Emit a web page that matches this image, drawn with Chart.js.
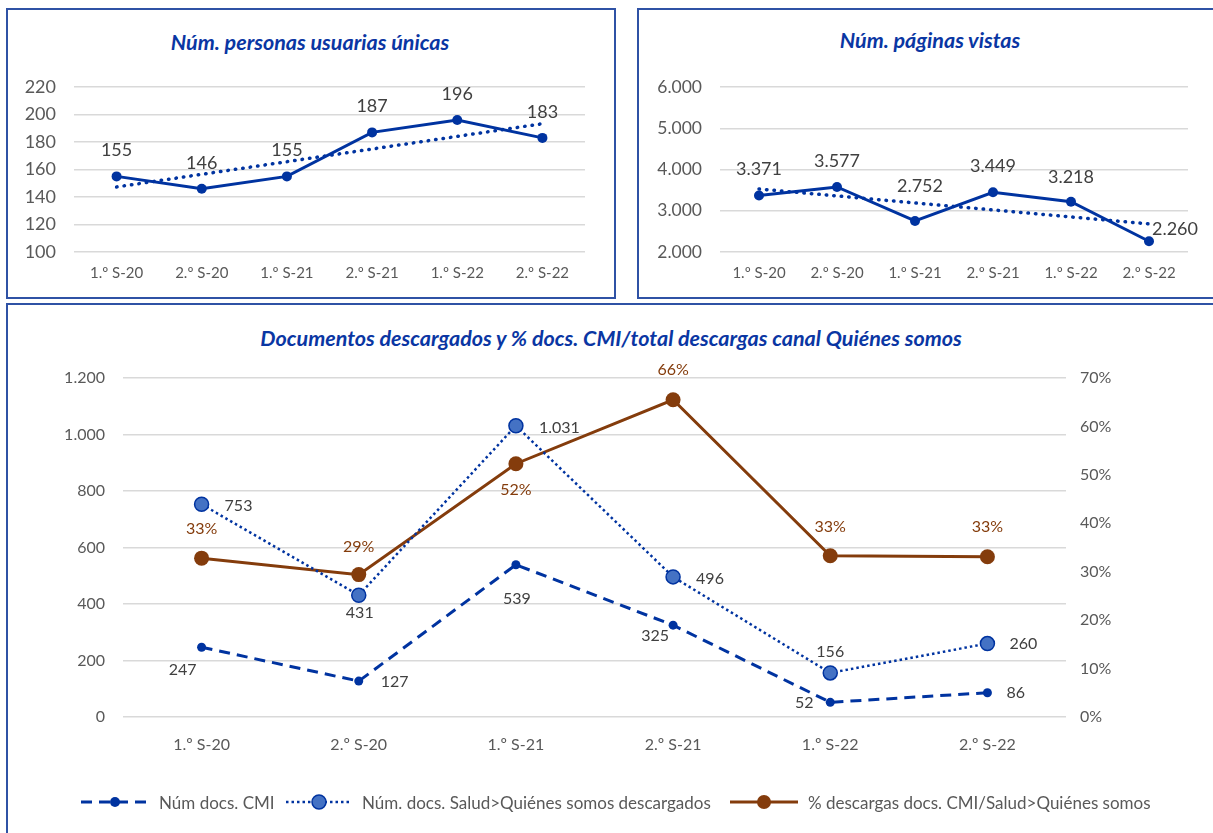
<!DOCTYPE html>
<html lang="es">
<head>
<meta charset="utf-8">
<title>Descargas y visitas</title>
<script src="https://cdn.jsdelivr.net/npm/chart.js@4.4.0/dist/chart.umd.min.js"></script>
<style>
  html, body { margin: 0; padding: 0; background: #fff; overflow: hidden; }
  body { width: 1213px; height: 833px; position: relative; font-family: Lato, "Open Sans", sans-serif; }
  .panel { position: absolute; border: 2px solid #2f52a5; box-sizing: border-box; }
  .lienzo { position: absolute; }
  .titulo { position: absolute; transform: translate(-50%, -50%); white-space: nowrap;
            font: italic 700 21.5px Lato, sans-serif; color: #0a36a3; }
  .leyenda { position: absolute; top: 792px; height: 20px; display: flex; align-items: center;
             font: 17px Lato, sans-serif; color: #595959; white-space: nowrap; }
  .leyenda svg { margin-right: 10px; }
</style>
</head>
<body>
<div class="panel" style="left:6px; top:8px; width:610px; height:291px;"></div>
<div class="panel" style="left:637px; top:8px; width:600px; height:291px;"></div>
<div class="panel" style="left:6px; top:303px; width:1230px; height:560px;"></div>

<div class="titulo" style="left:310px; top:42px;">Núm. personas usuarias únicas</div>
<div class="titulo" style="left:930px; top:40px;">Núm. páginas vistas</div>
<div class="titulo" style="left:611px; top:338px;">Documentos descargados y % docs. CMI/total descargas canal Quiénes somos</div>

<canvas id="graficoUsuarios" class="lienzo" width="606" height="287" style="left:8px; top:10px;"></canvas>
<canvas id="graficoPaginas" class="lienzo" width="574" height="287" style="left:639px; top:10px;"></canvas>
<canvas id="graficoDescargas" class="lienzo" width="1205" height="528" style="left:8px; top:305px;"></canvas>

<div class="leyenda" style="left:81px;">
  <svg width="68" height="16"><line x1="0" y1="8" x2="68" y2="8" stroke="#0033a0" stroke-width="3" stroke-dasharray="11 7"/><circle cx="34" cy="8" r="5" fill="#0033a0"/></svg>
  <span>Núm docs. CMI</span>
</div>
<div class="leyenda" style="left:286px;">
  <svg width="66" height="18"><line x1="0" y1="9" x2="66" y2="9" stroke="#0033a0" stroke-width="2.5" stroke-dasharray="2.5 3"/><circle cx="33" cy="9" r="7" fill="#4472c4" stroke="#0033a0" stroke-width="1.5"/></svg>
  <span>Núm. docs. Salud&gt;Quiénes somos descargados</span>
</div>
<div class="leyenda" style="left:730px;">
  <svg width="68" height="18"><line x1="0" y1="9" x2="68" y2="9" stroke="#843c0c" stroke-width="3"/><circle cx="34" cy="9" r="7" fill="#843c0c"/></svg>
  <span>% descargas docs. CMI/Salud&gt;Quiénes somos</span>
</div>

<script>
// Datos
const semestresSup = ['1.º S-20', '2.º S-20', '1.º S-21', '2.º S-21', '1.º S-22', '2.º S-22'];
const semestresInf = ['1.º S-20', '2.º S-20', '1.º S-21', '2.º S-21', '1.º S-22', '2.º S-22'];

const usuariosUnicos = [155, 146, 155, 187, 196, 183];
const tendenciaUsuarios = [147.3, 156.5, 165.7, 174.9, 184.1, 193.3];

const paginasVistas = [3371, 3577, 2752, 3449, 3218, 2260];
const tendenciaPaginas = [3528, 3359, 3189, 3020, 2850, 2681];

const docsCMI = [247, 127, 539, 325, 52, 86];
const docsQuienesSomos = [753, 431, 1031, 496, 156, 260];
const pctDescargasCMI = [0.328, 0.294, 0.523, 0.655, 0.333, 0.331];

// Escalas
const ticksUsuarios = { min: 100, max: 220, paso: 20 };
const ticksPaginas = { min: 2000, max: 6000, paso: 1000 };
const ticksDocs = { min: 0, max: 1200, paso: 200 };
const ticksPct = { min: 0, max: 0.7, paso: 0.1 };

// Colores
const AZUL = '#0033a0';
const AZUL_CLARO = '#4472c4';
const MARRON = '#843c0c';
const GRIS_TEXTO = '#595959';
const GRIS_ETIQUETA = '#404040';
const GRIS_REJILLA = '#d9d9d9';

// Formato español: 1.200
const miles = (v) => String(Math.round(v)).replace(/\B(?=(\d{3})+(?!\d))/g, '.');
const pct = (v) => Math.round(v * 100) + '%';

// Plugin para etiquetas de datos con desplazamiento por punto
const etiquetasDatos = {
    id: 'etiquetasDatos',
    afterDatasetsDraw(chart) {
        const ctx = chart.ctx;
        chart.data.datasets.forEach((ds, i) => {
            const et = ds.etiquetas;
            if (!et) return;
            const meta = chart.getDatasetMeta(i);
            ctx.save();
            ctx.font = et.font;
            ctx.fillStyle = et.color;
            ctx.textBaseline = 'middle';
            meta.data.forEach((pt, j) => {
                const d = et.desp[j];
                ctx.textAlign = d[2] || 'center';
                ctx.fillText(et.formato(ds.data[j]), pt.x + d[0], pt.y + d[1]);
            });
            ctx.restore();
        });
    }
};

function ejeX(labels, alto, padding, tam) {
    return {
        type: 'category',
        offset: true,
        grid: { display: false, drawTicks: false },
        border: { display: false },
        ticks: { color: GRIS_TEXTO, font: { family: 'Lato', size: tam }, padding: padding, maxRotation: 0 },
        afterFit(s) { s.height = alto; }
    };
}

function ejeY(cfg, ancho, padding, tam, formato, posicion, rejilla) {
    return {
        type: 'linear',
        position: posicion,
        min: cfg.min,
        max: cfg.max,
        grid: { display: rejilla, drawTicks: false, color: GRIS_REJILLA, lineWidth: 1.5 },
        border: { display: false },
        ticks: {
            stepSize: cfg.paso,
            color: GRIS_TEXTO,
            font: { family: 'Lato', size: tam },
            padding: padding,
            callback: (v) => formato(v)
        },
        afterFit(s) { s.width = ancho; }
    };
}

const opcionesBase = {
    responsive: false,
    devicePixelRatio: 1,
    animation: false,
    plugins: { legend: { display: false }, tooltip: { enabled: false }, title: { display: false } }
};

function initGraficos() {
    // Personas usuarias únicas
    new Chart(document.getElementById('graficoUsuarios'), {
        type: 'line',
        data: {
            labels: semestresSup,
            datasets: [{
                data: tendenciaUsuarios,
                borderColor: AZUL,
                borderWidth: 3.5,
                borderDash: [0.5, 7],
                borderCapStyle: 'round',
                pointRadius: 0
            }, {
                data: usuariosUnicos,
                borderColor: AZUL,
                backgroundColor: AZUL,
                borderWidth: 3,
                pointRadius: 5,
                pointBorderWidth: 0,
                etiquetas: {
                    font: '18px Lato', color: GRIS_ETIQUETA, formato: (v) => String(v),
                    desp: [[0, -26], [0, -26], [0, -26], [0, -26], [0, -26], [0, -26]]
                }
            }]
        },
        options: {
            ...opcionesBase,
            layout: { padding: { top: 77, right: 29, bottom: 0, left: 0 } },
            scales: {
                x: ejeX(semestresSup, 45, 12, 15),
                y: ejeY(ticksUsuarios, 66, 18, 18, (v) => String(v), 'left', true)
            }
        },
        plugins: [etiquetasDatos]
    });

    // Páginas vistas
    new Chart(document.getElementById('graficoPaginas'), {
        type: 'line',
        data: {
            labels: semestresSup,
            datasets: [{
                data: tendenciaPaginas,
                borderColor: AZUL,
                borderWidth: 3.5,
                borderDash: [0.5, 7],
                borderCapStyle: 'round',
                pointRadius: 0
            }, {
                data: paginasVistas,
                borderColor: AZUL,
                backgroundColor: AZUL,
                borderWidth: 3,
                pointRadius: 5,
                pointBorderWidth: 0,
                etiquetas: {
                    font: '18px Lato', color: GRIS_ETIQUETA, formato: miles,
                    desp: [[0, -26], [0, -26], [5, -35], [0, -26], [0, -25], [26, -12]]
                }
            }]
        },
        options: {
            ...opcionesBase,
            layout: { padding: { top: 77, right: 25, bottom: 0, left: 0 } },
            scales: {
                x: ejeX(semestresSup, 45, 12, 15),
                y: ejeY(ticksPaginas, 81, 18, 17.5, miles, 'left', true)
            }
        },
        plugins: [etiquetasDatos]
    });

    // Documentos descargados y %
    new Chart(document.getElementById('graficoDescargas'), {
        type: 'line',
        data: {
            labels: semestresInf,
            datasets: [{
                label: 'Núm docs. CMI',
                data: docsCMI,
                yAxisID: 'y',
                borderColor: AZUL,
                backgroundColor: AZUL,
                borderWidth: 3,
                borderDash: [11, 7],
                pointRadius: 4.5,
                pointBorderWidth: 0,
                etiquetas: {
                    font: '16px Lato', color: GRIS_ETIQUETA, formato: miles,
                    desp: [[-19, 23], [22, 1, 'left'], [1, 34], [-18, 11], [-26, 1], [19, 0, 'left']]
                }
            }, {
                label: 'Núm. docs. Salud>Quiénes somos descargados',
                data: docsQuienesSomos,
                yAxisID: 'y',
                borderColor: AZUL,
                backgroundColor: AZUL_CLARO,
                borderWidth: 2.5,
                borderDash: [2.5, 3],
                pointRadius: 7,
                pointBorderWidth: 1.5,
                pointBorderColor: AZUL,
                etiquetas: {
                    font: '16px Lato', color: GRIS_ETIQUETA, formato: miles,
                    desp: [[23, 2, 'left'], [1, 18], [23, 2, 'left'], [23, 2, 'left'], [0, -21], [22, 0, 'left']]
                }
            }, {
                label: '% descargas docs. CMI/Salud>Quiénes somos',
                data: pctDescargasCMI,
                yAxisID: 'y1',
                borderColor: MARRON,
                backgroundColor: MARRON,
                borderWidth: 3,
                pointRadius: 7.5,
                pointBorderWidth: 0,
                etiquetas: {
                    font: '16px Lato', color: MARRON, formato: pct,
                    desp: [[0, -29], [0, -28], [0, 26], [0, -30], [0, -29], [0, -30]]
                }
            }]
        },
        options: {
            ...opcionesBase,
            layout: { padding: { top: 73, right: 0, bottom: 0, left: 0 } },
            scales: {
                x: ejeX(semestresInf, 116, 18, 16),
                y: ejeY(ticksDocs, 115, 18, 16, miles, 'left', true),
                y1: ejeY(ticksPct, 147, 14, 16, pct, 'right', false)
            }
        },
        plugins: [etiquetasDatos]
    });
}

const fuentes = ['15px Lato', 'italic 700 21px Lato'];
Promise.all(fuentes.map((f) => document.fonts.load(f)))
    .catch(() => null)
    .then(() => initGraficos());
</script>
</body>
</html>
